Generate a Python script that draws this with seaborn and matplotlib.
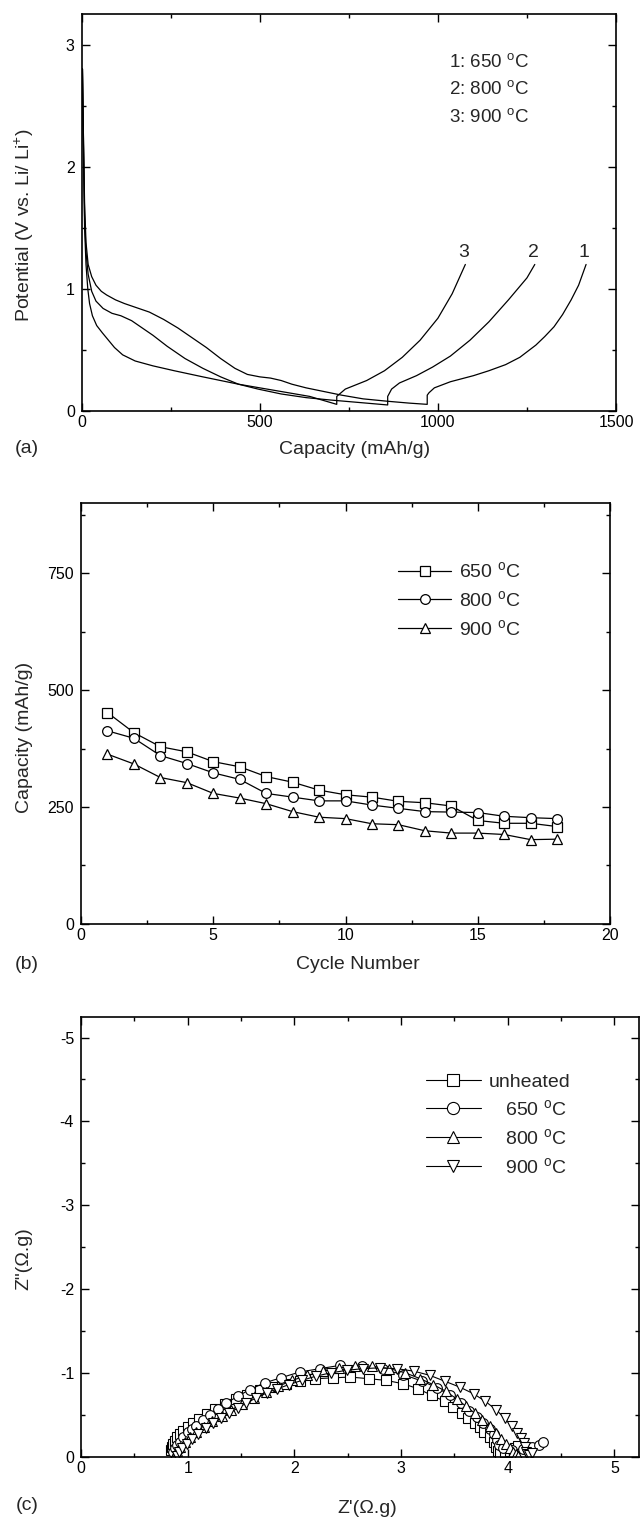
import matplotlib
matplotlib.use("Agg")
import matplotlib.pyplot as plt
import seaborn as sns
from matplotlib.ticker import MultipleLocator

# ---------------- (a) charge/discharge curves ----------------
cap_650 = [2, 5, 8, 12, 18, 28, 40, 55, 70, 95, 120, 150, 190, 230, 270, 310, 350, 390, 430, 465,
           500, 530, 560, 590, 630, 680, 730, 790, 860, 920, 970,
           970, 975, 990, 1035, 1100, 1143, 1190, 1230, 1275, 1300, 1326, 1350, 1374, 1395, 1416]
pot_650 = [2.8, 2.2, 1.7, 1.38, 1.2, 1.1, 1.03, 0.98, 0.95, 0.91, 0.88, 0.85, 0.81, 0.75, 0.68, 0.60,
           0.52, 0.43, 0.35, 0.30, 0.28, 0.27, 0.25, 0.22, 0.19, 0.16, 0.13, 0.10, 0.08, 0.065, 0.055,
           0.13, 0.15, 0.19, 0.24, 0.29, 0.33, 0.38, 0.44, 0.54, 0.61, 0.69, 0.79, 0.91, 1.03, 1.2]

cap_800 = [2, 5, 8, 12, 18, 28, 40, 60, 85, 110, 140, 170, 200, 240, 290, 340, 390, 440, 495, 560,
           630, 700, 780, 859,
           859, 870, 892, 940, 985, 1035, 1090, 1143, 1198, 1250, 1272]
pot_800 = [2.8, 2.2, 1.6, 1.3, 1.12, 0.98, 0.90, 0.84, 0.80, 0.78, 0.74, 0.68, 0.62, 0.53, 0.43, 0.35,
           0.28, 0.22, 0.18, 0.14, 0.11, 0.09, 0.07, 0.05,
           0.12, 0.18, 0.23, 0.29, 0.36, 0.45, 0.58, 0.73, 0.91, 1.09, 1.2]

cap_900 = [2, 5, 8, 12, 17, 22, 30, 42, 58, 75, 92, 115, 150, 200, 260, 340, 440, 540, 640, 716,
           716, 740, 800, 850, 900, 950, 1000, 1040, 1077]
pot_900 = [2.8, 2.1, 1.5, 1.2, 1.0, 0.88, 0.78, 0.70, 0.64, 0.58, 0.52, 0.46, 0.41, 0.37, 0.33, 0.28,
           0.22, 0.17, 0.12, 0.055,
           0.12, 0.18, 0.25, 0.33, 0.44, 0.58, 0.76, 0.96, 1.2]

curve_labels = ["1", "2", "3"]
legend_a = ["1: 650 $^{\\rm o}$C", "2: 800 $^{\\rm o}$C", "3: 900 $^{\\rm o}$C"]

# ---------------- (b) cycling ----------------
cycle = list(range(1, 19))
cyc_650 = [452, 409, 379, 368, 347, 336, 315, 303, 286, 276, 271, 262, 259, 252, 221, 215, 215, 208]
cyc_800 = [413, 397, 360, 343, 323, 309, 279, 271, 263, 263, 254, 247, 240, 239, 238, 230, 227, 225]
cyc_900 = [363, 342, 313, 302, 279, 269, 257, 240, 228, 225, 214, 212, 199, 194, 194, 191, 180, 181]
legend_b = ["650 $^{\\rm o}$C", "800 $^{\\rm o}$C", "900 $^{\\rm o}$C"]

# ---------------- (c) impedance ----------------
zre_unh = [0.84, 0.85, 0.86, 0.88, 0.90, 0.93, 0.96, 1.00, 1.05, 1.11, 1.18, 1.26, 1.35, 1.45, 1.56,
           1.68, 1.80, 1.92, 2.05, 2.19, 2.36, 2.52, 2.70, 2.86, 3.02, 3.16, 3.29, 3.41, 3.49, 3.57,
           3.63, 3.69, 3.74, 3.78, 3.83, 3.87, 3.89, 3.91, 3.93, 3.97, 4.02, 4.07, 4.10]
zim_unh = [-0.08, -0.12, -0.15, -0.19, -0.23, -0.27, -0.31, -0.35, -0.40, -0.45, -0.51, -0.57, -0.63,
           -0.69, -0.74, -0.79, -0.83, -0.87, -0.90, -0.93, -0.94, -0.95, -0.93, -0.91, -0.87, -0.81,
           -0.73, -0.66, -0.59, -0.52, -0.46, -0.40, -0.35, -0.29, -0.24, -0.18, -0.12, -0.07, -0.04,
           -0.05, -0.07, -0.10, -0.13]

zre_650 = [0.86, 0.88, 0.90, 0.93, 0.96, 1.00, 1.04, 1.08, 1.14, 1.21, 1.28, 1.36, 1.47, 1.58, 1.72,
           1.87, 2.05, 2.24, 2.43, 2.63, 2.83, 3.02, 3.20, 3.34, 3.46, 3.56, 3.64, 3.71, 3.77, 3.83,
           3.87, 3.90, 3.92, 3.96, 4.04, 4.14, 4.23, 4.29, 4.33]
zim_650 = [-0.06, -0.10, -0.14, -0.18, -0.23, -0.29, -0.33, -0.37, -0.44, -0.50, -0.57, -0.64, -0.72,
           -0.80, -0.88, -0.94, -1.01, -1.05, -1.09, -1.08, -1.04, -0.98, -0.90, -0.82, -0.73, -0.64,
           -0.55, -0.47, -0.40, -0.33, -0.27, -0.20, -0.14, -0.10, -0.08, -0.09, -0.11, -0.14, -0.18]

zre_800 = [0.88, 0.90, 0.93, 0.97, 1.02, 1.08, 1.15, 1.23, 1.32, 1.41, 1.51, 1.62, 1.73, 1.85, 1.98,
           2.12, 2.27, 2.42, 2.57, 2.73, 2.89, 3.04, 3.18, 3.30, 3.42, 3.52, 3.61, 3.69, 3.76, 3.83,
           3.89, 3.94, 3.98, 4.02, 4.05, 4.08, 4.10]
zim_800 = [-0.03, -0.07, -0.12, -0.17, -0.23, -0.29, -0.35, -0.42, -0.49, -0.56, -0.63, -0.70, -0.77,
           -0.84, -0.91, -0.97, -1.02, -1.06, -1.08, -1.08, -1.05, -1.00, -0.93, -0.86, -0.78, -0.69,
           -0.60, -0.52, -0.44, -0.36, -0.28, -0.21, -0.15, -0.10, -0.06, -0.03, -0.01]

zre_900 = [0.90, 0.92, 0.95, 0.99, 1.04, 1.10, 1.17, 1.24, 1.31, 1.39, 1.47, 1.55, 1.64, 1.74, 1.84,
           1.95, 2.07, 2.20, 2.34, 2.49, 2.64, 2.80, 2.96, 3.12, 3.27, 3.41, 3.55, 3.68, 3.79, 3.89,
           3.97, 4.04, 4.09, 4.12, 4.15, 4.16, 4.17, 4.18, 4.20, 4.23]
zim_900 = [-0.01, -0.05, -0.10, -0.15, -0.21, -0.27, -0.34, -0.40, -0.46, -0.52, -0.58, -0.64, -0.70,
           -0.76, -0.81, -0.86, -0.91, -0.96, -1.00, -1.03, -1.05, -1.06, -1.05, -1.02, -0.97, -0.90,
           -0.83, -0.75, -0.66, -0.56, -0.46, -0.36, -0.28, -0.22, -0.16, -0.11, -0.06, -0.03, -0.02,
           -0.04]
legend_c = ["unheated", "   650 $^{\\rm o}$C", "   800 $^{\\rm o}$C", "   900 $^{\\rm o}$C"]

# ---------------- style ----------------
sns.set_style("ticks")
plt.rcParams["font.family"] = ["Liberation Sans", "DejaVu Sans"]
plt.rcParams["mathtext.fontset"] = "custom"
plt.rcParams["mathtext.rm"] = "Liberation Sans"
plt.rcParams["mathtext.it"] = "Liberation Sans:italic"
plt.rcParams["axes.unicode_minus"] = False
plt.rcParams["axes.linewidth"] = 1.2
plt.rcParams["axes.edgecolor"] = "black"

fig = plt.figure(figsize=(6.4, 15.18), dpi=100)
ax_a = fig.add_axes([0.1277, 0.7292, 0.8348, 0.2616])
ax_b = fig.add_axes([0.1266, 0.3915, 0.8265, 0.2769])
ax_c = fig.add_axes([0.1266, 0.0404, 0.8718, 0.2899])


def style_ticks(ax):
    ax.tick_params(which="both", direction="in", top=True, right=True,
                   labelsize=11.5, colors="black", width=1.0)
    ax.tick_params(which="major", length=6)
    ax.tick_params(which="minor", length=3.2)
    ax.tick_params(axis="y", pad=5)
    ax.tick_params(axis="x", pad=3)
    for s in ax.spines.values():
        s.set_visible(True)
        s.set_linewidth(1.2)


# ----- (a) -----
for cx, cy in [(cap_650, pot_650), (cap_800, pot_800), (cap_900, pot_900)]:
    sns.lineplot(x=cx, y=cy, ax=ax_a, sort=False, estimator=None, color="black", lw=0.9)
ax_a.set_xlim(0, 1500)
ax_a.set_ylim(0, 3.25)
ax_a.xaxis.set_major_locator(MultipleLocator(500))
ax_a.xaxis.set_minor_locator(MultipleLocator(250))
ax_a.yaxis.set_major_locator(MultipleLocator(1))
ax_a.yaxis.set_minor_locator(MultipleLocator(0.5))
style_ticks(ax_a)
for lbl, cx in zip(curve_labels, [cap_650, cap_800, cap_900]):
    ax_a.text(cx[-1] - 5, 1.3, lbl, fontsize=14, ha="center", va="center")
for i, t in enumerate(legend_a):
    ax_a.text(1030, 2.855 - i * 0.223, t, fontsize=13.5, ha="left", va="center")
ax_a.set_xlabel("Capacity (mAh/g)", fontsize=14, va="center")
ax_a.xaxis.set_label_coords(0.51, -0.096)
ax_a.set_ylabel("Potential (V vs. Li/ Li$^{+}$)", fontsize=14, va="center")
ax_a.yaxis.set_label_coords(-0.108, 0.468)

# ----- (b) -----
mk = dict(markersize=7, markerfacecolor="white", markeredgecolor="black",
          markeredgewidth=0.9, color="black", lw=0.9)
for vals, m, lab in [(cyc_650, "s", legend_b[0]), (cyc_800, "o", legend_b[1]), (cyc_900, "^", legend_b[2])]:
    sns.lineplot(x=cycle, y=vals, ax=ax_b, marker=m, label=lab, **mk)
ax_b.set_xlim(0, 20)
ax_b.set_ylim(0, 900)
ax_b.xaxis.set_major_locator(MultipleLocator(5))
ax_b.xaxis.set_minor_locator(MultipleLocator(2.5))
ax_b.yaxis.set_major_locator(MultipleLocator(250))
ax_b.yaxis.set_minor_locator(MultipleLocator(125))
style_ticks(ax_b)
ax_b.legend(loc="upper left", bbox_to_anchor=(0.6, 0.862), frameon=False, fontsize=14,
            handlelength=2.73, handletextpad=0.4, labelspacing=0.45, borderpad=0,
            borderaxespad=0)
ax_b.set_xlabel("Cycle Number", fontsize=14, va="center")
ax_b.xaxis.set_label_coords(0.524, -0.098)
ax_b.set_ylabel("Capacity (mAh/g)", fontsize=14, va="center")
ax_b.yaxis.set_label_coords(-0.106, 0.444)

# ----- (c) -----
mkc = dict(markersize=7, markerfacecolor="white", markeredgecolor="black",
           markeredgewidth=0.8, color="black", lw=0.8)
for zx, zy, m, lab in [(zre_unh, zim_unh, "s", legend_c[0]), (zre_650, zim_650, "o", legend_c[1]),
                       (zre_800, zim_800, "^", legend_c[2]), (zre_900, zim_900, "v", legend_c[3])]:
    sns.lineplot(x=zx, y=zy, ax=ax_c, sort=False, estimator=None, marker=m, label=lab, **mkc)
ax_c.set_xlim(0, 5.23)
ax_c.set_ylim(0, -5.25)
ax_c.xaxis.set_major_locator(MultipleLocator(1))
ax_c.xaxis.set_minor_locator(MultipleLocator(0.5))
ax_c.yaxis.set_major_locator(MultipleLocator(1))
ax_c.yaxis.set_minor_locator(MultipleLocator(0.5))
style_ticks(ax_c)
ax_c.legend(loc="upper left", bbox_to_anchor=(0.6176, 0.872), frameon=False, fontsize=14,
            handlelength=2.86, handletextpad=0.39, labelspacing=0.45, borderpad=0,
            borderaxespad=0, markerscale=1.25)
ax_c.set_xlabel("Z'(\u03a9.g)", fontsize=14, va="center")
ax_c.xaxis.set_label_coords(0.513, -0.117)
ax_c.set_ylabel('Z"(\u03a9.g)', fontsize=14, va="center")
ax_c.yaxis.set_label_coords(-0.103, 0.449)

# panel labels
fig.text(0.042, 1 - 449 / 1518, "(a)", fontsize=14, ha="center", va="center")
fig.text(0.042, 1 - 965 / 1518, "(b)", fontsize=14, ha="center", va="center")
fig.text(0.042, 1 - 1506 / 1518, "(c)", fontsize=14, ha="center", va="center")

fig.savefig("out.png", dpi=100, facecolor="white")
